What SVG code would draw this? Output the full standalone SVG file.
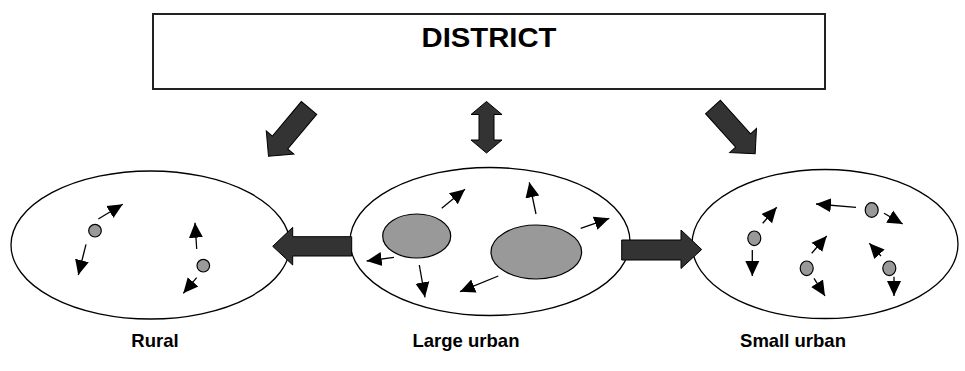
<svg xmlns="http://www.w3.org/2000/svg" width="965" height="371" viewBox="0 0 965 371">
<style>
.region{fill:#fff;stroke:#000;stroke-width:1.3}
.blob{fill:#999;stroke:#000;stroke-width:1.2}
.big{fill:#333;stroke:#000;stroke-width:1}
.flow{fill:none;stroke:#000;stroke-width:1.3;marker-end:url(#ah)}
.label{font-family:"Liberation Sans",Arial,sans-serif;font-weight:bold;font-size:18.5px;fill:#000;text-anchor:middle}
</style>
<defs>
<marker id="ah" markerUnits="userSpaceOnUse" markerWidth="16" markerHeight="16" refX="15" refY="7.5" orient="auto" viewBox="0 0 16 15">
<path d="M0,0.5 L15,7.5 L0,14.5 z" fill="#000"/>
</marker>
<polygon id="diag" points="0,-10 45,-10 45,-18 63,0 45,18 45,10 0,10"/>
</defs>
<rect width="965" height="371" fill="#fff"/>

<g id="district">
<rect x="153" y="14" width="672" height="75" fill="#fff" stroke="#222" stroke-width="2"/>
<text x="489" y="47" font-family="Liberation Sans, Arial, sans-serif" font-weight="bold" font-size="27" text-anchor="middle" textLength="135" lengthAdjust="spacingAndGlyphs">DISTRICT</text>
</g>

<g id="rural">
<ellipse class="region" cx="150.5" cy="245" rx="139.5" ry="74"/>
<circle class="blob" cx="95" cy="230.7" r="6.3"/>
<circle class="blob" cx="203.3" cy="265.7" r="6.3"/>
<line class="flow" x1="98.3" y1="219" x2="122.7" y2="204.3"/>
<line class="flow" x1="86" y1="244.3" x2="78.3" y2="275"/>
<line class="flow" x1="196.7" y1="249" x2="195" y2="222.7"/>
<line class="flow" x1="196.7" y1="277.7" x2="183.3" y2="293.3"/>
<text class="label" x="155" y="347">Rural</text>
</g>

<g id="large-urban">
<ellipse class="region" cx="490" cy="241.5" rx="140" ry="74"/>
<ellipse class="blob" cx="416.7" cy="236" rx="34" ry="22"/>
<ellipse class="blob" cx="536.3" cy="252" rx="45.3" ry="27"/>
<line class="flow" x1="441.7" y1="208.3" x2="465" y2="189.3"/>
<line class="flow" x1="536" y1="214" x2="529.3" y2="182.3"/>
<line class="flow" x1="580.7" y1="228.3" x2="609.3" y2="218.3"/>
<line class="flow" x1="394" y1="257.3" x2="366.7" y2="261"/>
<line class="flow" x1="419.3" y1="265" x2="425" y2="297.3"/>
<line class="flow" x1="498.3" y1="276" x2="460" y2="291.7"/>
<text class="label" x="466" y="347">Large urban</text>
</g>

<g id="small-urban">
<ellipse class="region" cx="825" cy="244" rx="133" ry="74.5"/>
<ellipse class="blob" cx="754.3" cy="238.3" rx="6.5" ry="7.3"/>
<ellipse class="blob" cx="871.7" cy="210" rx="6.5" ry="7.3"/>
<ellipse class="blob" cx="806.7" cy="268.3" rx="6.5" ry="7.3"/>
<ellipse class="blob" cx="889.3" cy="268.3" rx="6.5" ry="7.3"/>
<line class="flow" x1="762.7" y1="223.3" x2="776.7" y2="207.3"/>
<line class="flow" x1="752.3" y1="250" x2="752.3" y2="276"/>
<line class="flow" x1="856" y1="207.3" x2="816" y2="204"/>
<line class="flow" x1="884" y1="213.3" x2="902.7" y2="224"/>
<line class="flow" x1="811.7" y1="253.3" x2="826.7" y2="236"/>
<line class="flow" x1="814" y1="278.3" x2="825" y2="296"/>
<line class="flow" x1="881" y1="256" x2="869.3" y2="243.3"/>
<line class="flow" x1="894" y1="276.7" x2="894" y2="296"/>
<text class="label" x="793" y="347">Small urban</text>
</g>

<g id="connectors">
<use href="#diag" class="big" transform="translate(309,108) rotate(130)"/>
<polygon class="big" points="486.5,101.5 502,114.5 494,114.5 494,140 502,140 486.5,153 471,140 479,140 479,114.5 471,114.5"/>
<use href="#diag" class="big" transform="translate(713,107) rotate(48)"/>
<polygon class="big" points="351.7,236.7 292.7,236.7 292.7,227.3 272.7,246.3 292.7,265 292.7,256 351.7,256"/>
<polygon class="big" points="621.7,240 681,240 681,230 701.7,249.5 681,268.5 681,260 621.7,260"/>
</g>
</svg>
